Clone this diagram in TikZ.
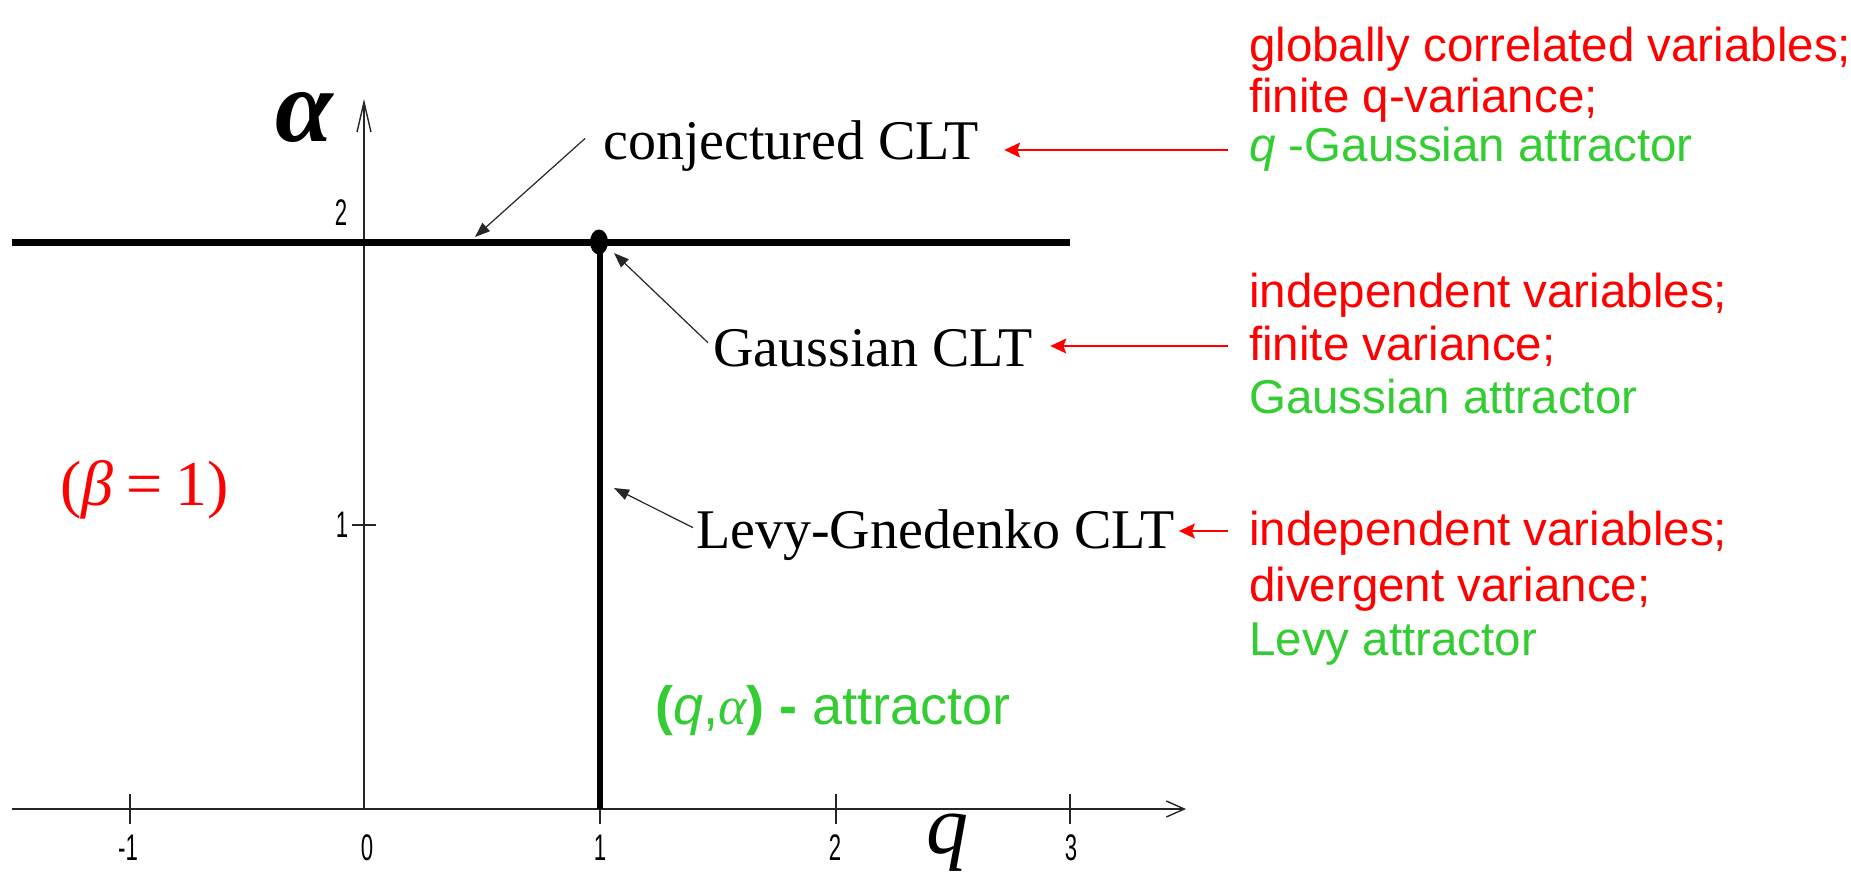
\documentclass[tikz,border=0pt]{standalone}
\usepackage{fontspec}
\setmainfont{Liberation Serif}
\newfontfamily\arialf{Liberation Sans}
\newfontfamily\timesf{Liberation Serif}
\usetikzlibrary{arrows.meta,calc,shapes.geometric}
\definecolor{pred}{RGB}{255,0,0}
\definecolor{lgreen}{RGB}{51,204,51}
\begin{document}
\begin{tikzpicture}[x=1pt,y=-1pt,
  axisline/.style={line width=1.4pt,black!85},
  heavy/.style={line width=7pt,black},
  tickmark/.style={line width=1.3pt,black!85},
  annot/.style={line width=1.2pt,black!85,-{Triangle[length=15pt,width=11pt]}},
  redarr/.style={line width=1.6pt,pred,-{Stealth[length=16pt,width=15pt,inset=3pt]}},
  tnr/.style={anchor=base west,inner sep=0pt,font=\timesf\fontsize{56}{60}\selectfont},
  blk/.style={anchor=base west,inner sep=0pt,font=\arialf\fontsize{47.5}{56}\selectfont},
  ticklab/.style={inner sep=0pt,font=\arialf\fontsize{37}{40}\selectfont}
]
\useasboundingbox[fill=white] (0,0) rectangle (1851,876);

% axes
\coordinate (xs) at (12,809);
\coordinate (xe) at (1186,809);
\coordinate (o) at (364,809);
\coordinate (ye) at (364,99);
\draw[axisline,-{Straight Barb[length=18pt,width=16pt]}] (xs) -- (xe);
\draw[axisline,-{Straight Barb[length=30pt,width=14pt]}] (o) -- (ye);

% ticks
\foreach \x in {130,600,836,1070} \draw[tickmark] (\x,794) -- (\x,824);
\draw[tickmark] (352,525) -- (376,525);

% tick labels
\node[ticklab] (tm1) at (128,848) {\scalebox{0.6}[1]{-1}};
\node[ticklab] (t0) at (367,848) {\scalebox{0.6}[1]{0}};
\node[ticklab] (t1) at (600,848) {\scalebox{0.6}[1]{1}};
\node[ticklab] (t2) at (835,848) {\scalebox{0.6}[1]{2}};
\node[ticklab] (t3) at (1071,848) {\scalebox{0.6}[1]{3}};
\node[ticklab] (a1) at (342,525) {\scalebox{0.6}[1]{1}};
\node[ticklab] (a2) at (341,213) {\scalebox{0.6}[1]{2}};

% axis names
\node[inner sep=0pt,font=\timesf\fontsize{104}{104}\selectfont\bfseries\itshape] (alab) at (304,118) {α};
\node[inner sep=0pt,font=\timesf\fontsize{84}{84}\selectfont\itshape] (qlab) at (947,843) {q};

% heavy lines
\draw[heavy] (12,242) -- (1070,242);
\draw[line width=6pt] (600,242) -- (600,809);
\node[ellipse,fill=black,inner sep=0pt,minimum width=18pt,minimum height=25pt] (gp) at (599,242) {};

% labels
\node[tnr] (conj) at (603,159) {conjectured CLT};
\node[tnr] (gauss) at (713,366) {Gaussian CLT};
\node[tnr] (levy) at (696,548) {Levy-Gnedenko CLT};

\coordinate (cjt) at (475,237);
\coordinate (lgt) at (614,488);
\coordinate (gst) at (614,253);
\draw[annot] ([xshift=-18pt,yshift=7pt]conj.west) -- (cjt);
\draw[annot] ([xshift=-5pt,yshift=5pt]gauss.west) -- (gst);
\draw[annot] ([xshift=-3pt,yshift=7pt]levy.west) -- (lgt);

\node[anchor=base west,inner sep=0pt,text=pred,font=\timesf\fontsize{64}{64}\selectfont] (beta) at (60,505) {(\textit{β}\hspace{0.2em}=\hspace{0.2em}1)};

\node[anchor=base west,inner sep=0pt,text=lgreen,font=\arialf\fontsize{54}{58}\selectfont] (qa) at (655,724) {{\bfseries(}\textit{q},{\timesf\itshape α}{\bfseries)} {\bfseries -} attractor};

% right blocks
\node[blk,text=pred] (b11) at (1249,61) {globally correlated variables;};
\node[blk,text=pred] (b12) at (1249,112) {finite q-variance;};
\node[blk,text=lgreen] (b13) at (1249,161) {\textit{q} -Gaussian attractor};
\node[blk,text=pred] (b21) at (1249,307) {independent variables;};
\node[blk,text=pred] (b22) at (1249,360) {finite variance;};
\node[blk,text=lgreen] (b23) at (1249,413) {Gaussian attractor};
\node[blk,text=pred] (b31) at (1249,545) {independent variables;};
\node[blk,text=pred] (b32) at (1249,601) {divergent variance;};
\node[blk,text=lgreen] (b33) at (1249,655) {Levy attractor};

% red arrows
\coordinate (r1s) at ([xshift=-21pt,yshift=11pt]b13.base west);
\coordinate (r1e) at ([xshift=25pt]conj.east);
\draw[redarr] (r1s) -- (r1s -| r1e);
\coordinate (r2s) at ([xshift=-21pt,yshift=14pt]b22.base west);
\coordinate (r2e) at ([xshift=17pt]gauss.east);
\draw[redarr] (r2s) -- (r2s -| r2e);
\coordinate (r3s) at ([xshift=-21pt,yshift=14pt]b31.base west);
\coordinate (r3e) at ([xshift=4pt]levy.east);
\draw[redarr] (r3s) -- (r3s -| r3e);
\end{tikzpicture}
\end{document}
